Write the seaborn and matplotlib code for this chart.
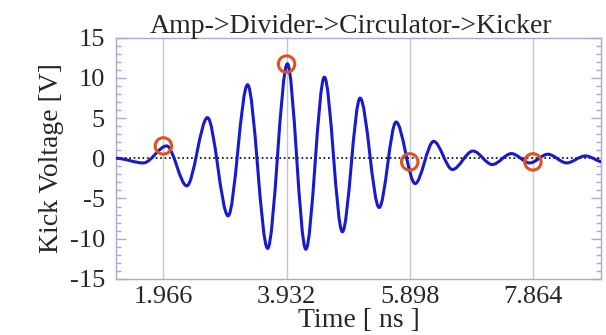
import matplotlib
matplotlib.use('Agg')
import matplotlib.pyplot as plt
from matplotlib.path import Path
from matplotlib.patches import PathPatch
from matplotlib.ticker import MultipleLocator
import seaborn as sns

# peaks / troughs of the kick waveform
peak_time = [1.21, 1.647, 2.02, 2.34, 2.67, 3.00, 3.31, 3.63, 3.945, 4.24,
             4.536, 4.823, 5.106, 5.41, 5.68, 5.984, 6.28, 6.58, 6.906,
             7.216, 7.521, 7.814, 8.103, 8.402, 8.700, 9.0]
peak_volt = [0.0, -0.58, 1.53, -3.43, 5.04, -7.15, 9.13, -11.19, 11.73,
             -11.3, 10.07, -9.13, 7.47, -6.11, 4.5, -3.14, 2.1, -1.4, 0.9,
             -0.78, 0.58, -0.58, 0.5, -0.58, 0.29, -0.5]

# sampled points marked with circles
marker_time = [1.966, 3.932, 5.898, 7.864]
marker_volt = [1.53, 11.7, -0.45, -0.45]

xtick_vals = [1.966, 3.932, 5.898, 7.864]
ytick_vals = [-15, -10, -5, 0, 5, 10, 15]

LINE_BLUE = '#1a1acd'
MARK_RED = '#e0521e'
FRAME = '#a8a8d4'

sns.set_theme(style='white')
plt.rcParams['font.family'] = ['Liberation Serif', 'DejaVu Serif']
plt.rcParams['axes.unicode_minus'] = False

fig = plt.figure(figsize=(6.06, 3.35), dpi=100)
ax = fig.add_axes([0.1914, 0.1672, 0.8003, 0.7208])

# smooth trace: cubic segments with flat tangents at every extremum
verts = [(peak_time[0], peak_volt[0])]
codes = [Path.MOVETO]
for i in range(len(peak_time) - 1):
    t0, t1 = peak_time[i], peak_time[i + 1]
    v0, v1 = peak_volt[i], peak_volt[i + 1]
    dt = t1 - t0
    verts += [(t0 + dt / 3, v0), (t1 - dt / 3, v1), (t1, v1)]
    codes += [Path.CURVE4] * 3
trace = PathPatch(Path(verts, codes), facecolor='none', edgecolor=LINE_BLUE,
                  lw=2.2, transform=ax.transData, zorder=3)
ax.add_patch(trace)

ax.axhline(0, color='black', ls=':', lw=1.2, zorder=2)

sns.scatterplot(x=marker_time, y=marker_volt, ax=ax, s=140, marker='o',
                edgecolor=MARK_RED, linewidth=2.2, zorder=4)
ax.collections[-1].set_facecolor('none')
ax.collections[-1].set_edgecolor(MARK_RED)

ax.set_xlim(1.21, 8.95)
ax.set_ylim(-15, 15)
ax.set_xticks(xtick_vals)
ax.set_xticklabels([f'{v:.3f}' for v in xtick_vals])
ax.set_yticks(ytick_vals)
ax.set_yticklabels([str(v) for v in ytick_vals])
ax.yaxis.set_minor_locator(MultipleLocator(1))

ax.grid(axis='x', color='#c4c4d4', lw=1)
ax.set_axisbelow(True)

for sp in ax.spines.values():
    sp.set_color(FRAME)
    sp.set_linewidth(1.0)

ax.tick_params(axis='y', which='both', direction='in', left=True, right=True,
               color=FRAME, labelsize=19, pad=8)
ax.tick_params(axis='y', which='major', length=7, width=1)
ax.tick_params(axis='y', which='minor', length=3.5, width=1)
ax.tick_params(axis='x', which='both', length=0, labelsize=19, pad=5)

ax.set_title('Amp->Divider->Circulator->Kicker', fontsize=20, pad=3, x=0.485)
ax.set_xlabel('Time [ ns ]', fontsize=20, labelpad=0)
ax.set_ylabel('Kick Voltage [V]', fontsize=20, labelpad=4)

fig.savefig('out.png', dpi=100)
